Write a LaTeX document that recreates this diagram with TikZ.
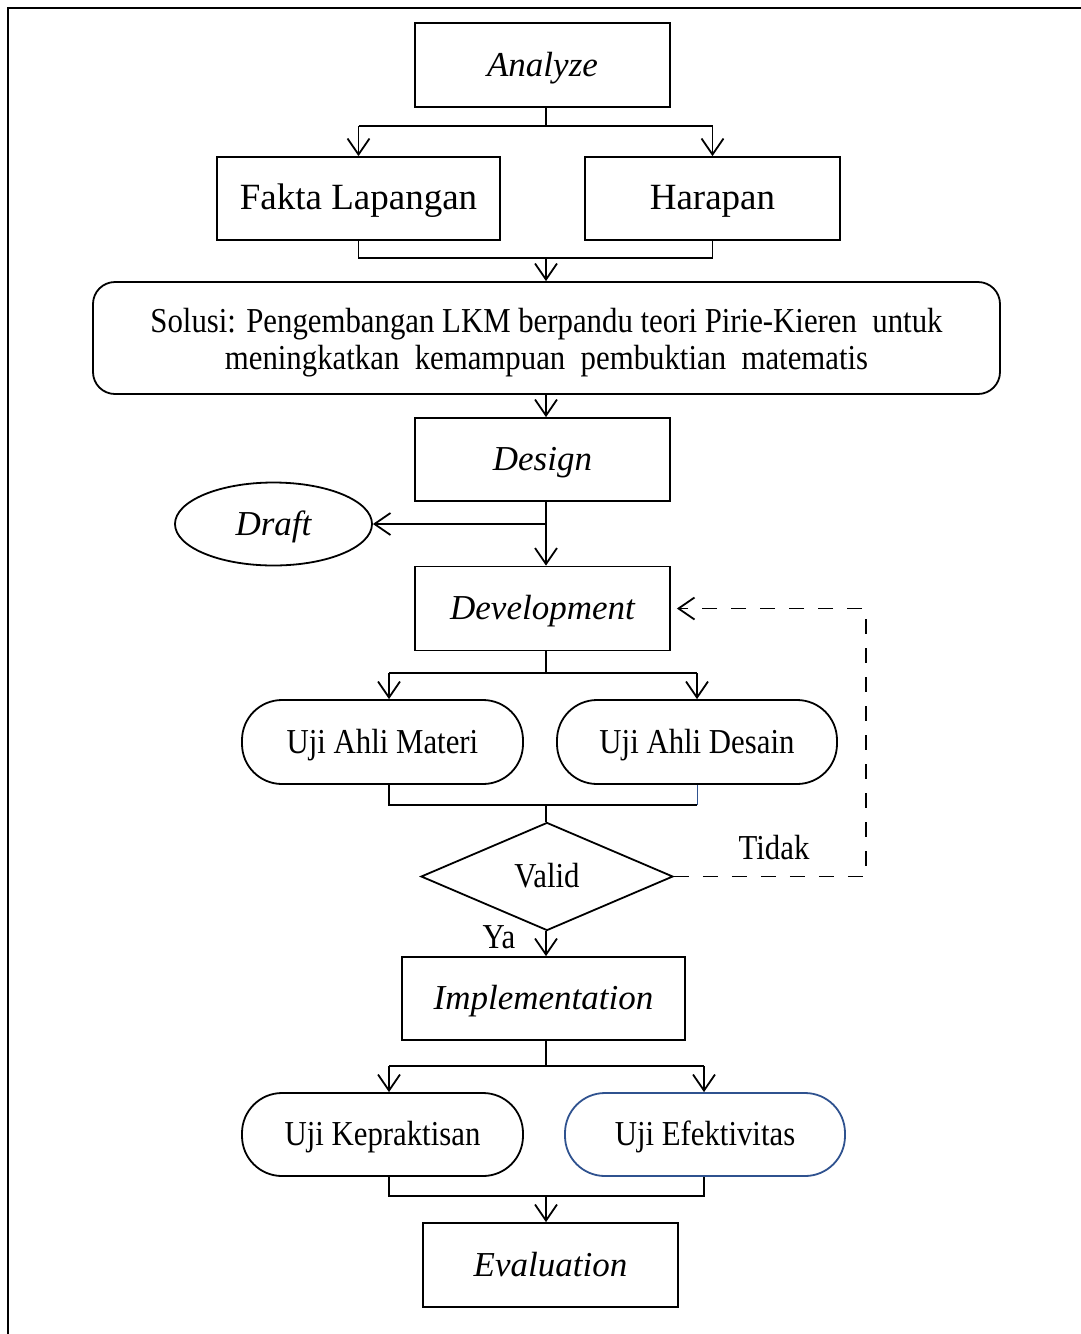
\documentclass[tikz,border=0pt]{standalone}
\usepackage{fontspec}
\setmainfont{Liberation Serif}
\newfontfamily\condf[FakeStretch=0.88]{Liberation Serif}
\usetikzlibrary{arrows.meta,shapes.geometric}
\definecolor{efblue}{RGB}{47,82,143}
\tikzset{
  base/.style={draw=black, line width=1.8pt, inner sep=0pt, anchor=center, text height=28pt, text depth=6pt},
  boxit/.style={base, rectangle, font=\fontsize{35}{38}\selectfont\itshape},
  boxrm/.style={base, rectangle, font=\fontsize{37}{40}\selectfont},
  pill/.style={base, rectangle, rounded corners=40pt, font=\fontsize{35}{38}\selectfont\condf},
  ln/.style={line width=1.8pt},
  arr/.style={ln, -{Straight Barb[length=16pt,width=22pt]}},
  lbl/.style={inner sep=0pt, font=\fontsize{35}{38}\selectfont\condf}
}
\begin{document}
\begin{tikzpicture}[x=1pt,y=-1pt]
\useasboundingbox (0,0) rectangle (1081,1334);
\draw[line width=2.5pt] (8,1334) -- (8,8) -- (1081,8);

% nodes
\node[boxit, minimum width=255, minimum height=84] (ana) at (542.5,65) {Analyze};
\node[boxrm, minimum width=283, minimum height=83] (fak) at (358.5,198.5) {Fakta Lapangan};
\node[boxrm, minimum width=255, minimum height=83] (har) at (712.5,198.5) {Harapan};
\node[draw=black, line width=1.8pt, rectangle, rounded corners=22pt, minimum width=907, minimum height=112] (sol) at (546.5,338) {};
\node[lbl, align=center, font=\fontsize{35}{37}\selectfont\condf] (solt) at (546.5,342.5)
      {Solusi: Pengembangan LKM berpandu teori Pirie-Kieren\ \ untuk\\meningkatkan\ \ kemampuan\ \ pembuktian\ \ matematis};
\node[boxit, minimum width=255, minimum height=83] (des) at (542.5,459.5) {Design};
\node[base, ellipse, minimum width=197, minimum height=83, font=\fontsize{35}{38}\selectfont\itshape] (dra) at (273.5,524) {Draft};
\node[boxit, minimum width=255, minimum height=84] (dev) at (542.5,608.5) {Development};
\node[pill, minimum width=281, minimum height=84] (uam) at (382.5,742) {Uji Ahli Materi};
\node[pill, minimum width=280, minimum height=84] (uad) at (697,742) {Uji Ahli Desain};
\node[base, diamond, aspect=2.33, minimum width=252, minimum height=108, font=\fontsize{35}{38}\selectfont\condf] (val) at (547,876.5) {Valid};
\node[boxit, minimum width=283, minimum height=83] (imp) at (543.5,998.5) {Implementation};
\node[pill, minimum width=281, minimum height=83] (ukp) at (382.5,1134.5) {Uji Kepraktisan};
\node[pill, draw=efblue, minimum width=280, minimum height=83] (uef) at (705,1134.5) {Uji Efektivitas};
\node[boxit, minimum width=255, minimum height=84] (eva) at (550.5,1265) {Evaluation};

\node[lbl] (tid) at (774,848) {Tidak};
\node[lbl] (ya) at (499,937) {Ya};

% junction coordinates
\coordinate (sp) at (546,0);
\coordinate (j1) at (546,126);
\coordinate (j2) at (546,258);
\coordinate (j3) at (546,524);
\coordinate (j4) at (546,673);
\coordinate (a1) at (389,673);
\coordinate (a2) at (697,673);
\coordinate (j5) at (546,805);
\coordinate (d1) at (866,608.5);
\coordinate (j6) at (546,1066);
\coordinate (b1) at (389,1066);
\coordinate (b2) at (704,1066);
\coordinate (j7) at (546,1196);

% Analyze -> Fakta / Harapan
\draw[ln] (ana.south -| sp) -- (j1);
\draw[ln] (fak.north |- j1) -- (har.north |- j1);
\draw[arr] (fak.north |- j1) -- (fak.north);
\draw[arr] (har.north |- j1) -- (har.north);

% Fakta / Harapan -> Solusi
\draw[ln] (fak.south) |- (j2) -| (har.south);
\draw[arr] (j2) -- (sol.north -| j2);

% Solusi -> Design
\draw[arr] (sol.south -| sp) -- (des.north -| sp);

% Design -> Development, Draft
\draw[arr] (des.south -| sp) -- (dev.north -| sp);
\draw[arr] (j3) -- (dra.east);

% Development -> Uji Ahli
\draw[ln] (dev.south -| sp) -- (j4);
\draw[ln] (a1) -- (a2);
\draw[arr] (a1) -- (a1 |- uam.north);
\draw[arr] (a2) -- (a2 |- uad.north);

% Uji Ahli -> Valid
\draw[ln] (uam.south -| a1) |- (j5) -- (j5 -| a2);
\draw[line width=1pt, draw=efblue] (j5 -| a2) -- (uad.south -| a2);
\draw[ln] (j5) -- (val.north -| sp);

% Valid -> Development (Tidak)
\draw[arr, dash pattern=on 15pt off 14pt, shorten >=6pt] (val.east) -| (d1) -- (dev.east);

% Valid -> Implementation (Ya)
\draw[arr] (val.south -| sp) -- (imp.north -| sp);

% Implementation -> Uji
\draw[ln] (imp.south -| sp) -- (j6);
\draw[ln] (b1) -- (b2);
\draw[arr] (b1) -- (b1 |- ukp.north);
\draw[arr] (b2) -- (b2 |- uef.north);

% Uji -> Evaluation
\draw[ln] (ukp.south -| b1) |- (j7) -| (uef.south -| b2);
\draw[arr] (j7) -- (eva.north -| j7);
\end{tikzpicture}
\end{document}
